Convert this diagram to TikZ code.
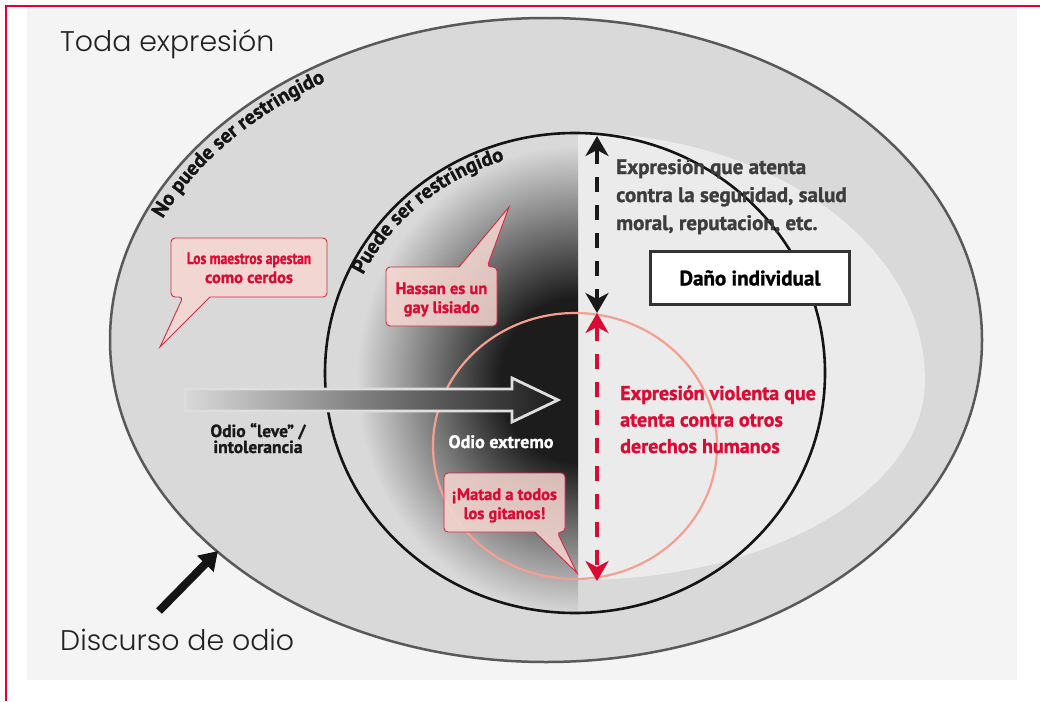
\documentclass[tikz,border=0pt]{standalone}
\usepackage{fontspec}
\usepackage{graphicx}
\setmainfont{PT Sans}[BoldFont={PT Sans Bold}, BoldFeatures={FakeBold=1.2}]
\newfontfamily\thinfont{Poppins Light}
\usetikzlibrary{arrows.meta,decorations.text}
\definecolor{framered}{HTML}{E4002B}
\definecolor{bgc}{HTML}{F4F4F4}
\definecolor{midg}{HTML}{D9D9D9}
\definecolor{lightg}{HTML}{EBEBEB}
\definecolor{ringc}{HTML}{595959}
\definecolor{dk}{HTML}{1C1C1C}
\definecolor{salmon}{HTML}{F4A090}
\definecolor{tred}{HTML}{DC0A32}
\definecolor{bred}{HTML}{D42A44}
\definecolor{bpink}{HTML}{F6D6D0}
\definecolor{txtg}{HTML}{3D3D3D}
\definecolor{boxg}{HTML}{333333}
\definecolor{ttl}{HTML}{222222}
\definecolor{arrowline}{HTML}{DEDEDE}
\pgfdeclareradialshading{hate}{\pgfpoint{0bp}{0bp}}{color(0bp)=(dk); color(8.75bp)=(dk); color(25bp)=(midg); color(50bp)=(midg)}
\begin{document}
\begin{tikzpicture}[x=1pt,y=1pt,
  every node/.style={inner sep=0pt},
  bubble/.style={draw=bred, line width=0.9pt, fill=bpink, fill opacity=0.85},
  btxt/.style={text=tred, font=\bfseries\fontsize{16.5}{19}\selectfont, align=center, anchor=base},
  bigtitle/.style={text=ttl, font=\thinfont\fontsize{28.4}{28}\selectfont, anchor=base west},
  dashblack/.style={line width=4.5pt, black!90, dash pattern=on 15pt off 13pt,
     {Stealth[length=20pt,width=23pt,inset=6pt]}-{Stealth[length=20pt,width=23pt,inset=6pt]}},
  dashred/.style={line width=4.5pt, tred, dash pattern=on 15pt off 13pt,
     {Stealth[length=20pt,width=23pt,inset=6pt]}-{Stealth[length=20pt,width=23pt,inset=6pt]}},
  lbl/.style={decorate, decoration={text along path, text color=black!92}}
]
\useasboundingbox (0,0) rectangle (1040,-701);
% frame and background
\draw[framered, line width=1.4pt] (1040,-6) -- (6,-6) -- (6,-701);
\fill[bgc] (27,-7.5) rectangle (1017,-680);
% outer ellipse
\draw[ringc, line width=2.5pt, fill=midg] (546,-340) ellipse [x radius=436, y radius=322];
% light region on the right
\fill[lightg] (578,-133) arc[start angle=90, end angle=0, x radius=347, y radius=247]
   arc[start angle=0, end angle=-90, x radius=347, y radius=200] -- cycle;
% dark radial gradient, left half
\begin{scope}
  \clip (575,-373) ellipse [x radius=250, y radius=240];
  \clip (300,-100) rectangle (578,-650);
  \shade[shading=hate] (578,-380) ellipse [x radius=222, y radius=235];
\end{scope}
% black circle
\draw[line width=2.6pt, black!92] (575,-373) ellipse [x radius=250, y radius=240];
% salmon circle
\draw[salmon, line width=2.2pt] (575,-446) ellipse [x radius=142, y radius=133];
% gradient arrow
\shade[left color=midg, right color=dk, draw=arrowline, line width=2.8pt, line join=miter]
  (185,-389) -- (512,-389) -- (512,-378) -- (558,-400) -- (512,-422) -- (512,-411) -- (185,-411) -- cycle;
% bubbles
\path[bubble] (210,-297) [rounded corners=4pt] -- (327,-297) -- (327,-238) -- (171,-238) -- (171,-297) -- (183,-297) [sharp corners] -- (160,-347) -- cycle;
\path[bubble] (459,-267) [rounded corners=4pt] -- (386,-267) -- (386,-326) -- (497,-326) -- (497,-267) -- (487,-267) [sharp corners] -- (509,-207) -- cycle;
\path[bubble] (535,-532) [rounded corners=4pt] -- (444,-532) -- (444,-473) -- (565,-473) -- (565,-532) -- (557,-532) [sharp corners] -- (577,-573) -- cycle;
\node[btxt] (b1) at (249,-283) {\scalebox{0.82}[1]{Los maestros apestan}\\como cerdos};
\node[btxt] (b2) at (441.5,-313) {Hassan es un\\gay lisiado};
\node[btxt] (b3) at (504.5,-519) {¡Matad a todos\\los gitanos!};
% dashed arrows
\coordinate (dtop) at (597,-136);
\coordinate (dmid) at (597,-313);
\coordinate (dbot) at (597,-581);
\draw[dashblack] (dtop) -- (dmid);
\draw[dashred] (dmid) -- (dbot);
% curved labels
\coordinate (pA) at (162.7,-218.8);
\path[lbl, decoration={text={|\bfseries\fontsize{20.5}{20.5}\selectfont|No puede ser restringido}}]
  (pA) arc[start angle=156.5, end angle=100, x radius=418, y radius=304];
\coordinate (pB) at (363,-275);
\path[lbl, decoration={text={|\bfseries\fontsize{20.5}{20.5}\selectfont|Puede ser restringido}}]
  (pB) arc[start angle=153.9, end angle=75, x radius=236, y radius=223];
% titles
\node[bigtitle] (toda) at (60,-52) {Toda expresión};
\node[bigtitle] (disc) at (60,-650) {Discurso de odio};
% thick arrow
\coordinate (ta) at (159,-611);
\coordinate (tb) at (218,-551);
\draw[line width=8pt, black!92, -{Triangle[length=18pt,width=22pt]}] (ta) -- (tb);
% texts
\node[anchor=base, align=center, font=\bfseries\fontsize{17.5}{16}\selectfont, text=black!90] (leve) at (258,-453) {Odio “leve” /\\intolerancia};
\node[anchor=base, font=\bfseries\fontsize{18}{18}\selectfont, text=white] (extr) at (501,-448) {Odio extremo};
\node[anchor=base west, align=left, font=\bfseries\fontsize{21}{28}\selectfont, text=txtg] (indiv) at (616,-230)
  {Expresión que atenta\\contra la seguridad, salud\\moral, reputacion, etc.};
\node[draw=boxg, line width=3pt, fill=white, minimum width=199pt, minimum height=53pt,
  font=\bfseries\fontsize{21}{21}\selectfont] (dano) at (750,-278) {Daño individual};
\node[anchor=base west, align=left, font=\bfseries\fontsize{20}{26.5}\selectfont, text=tred] (viol) at (620,-453)
  {Expresión violenta que\\atenta contra otros\\derechos humanos};
\end{tikzpicture}
\end{document}
